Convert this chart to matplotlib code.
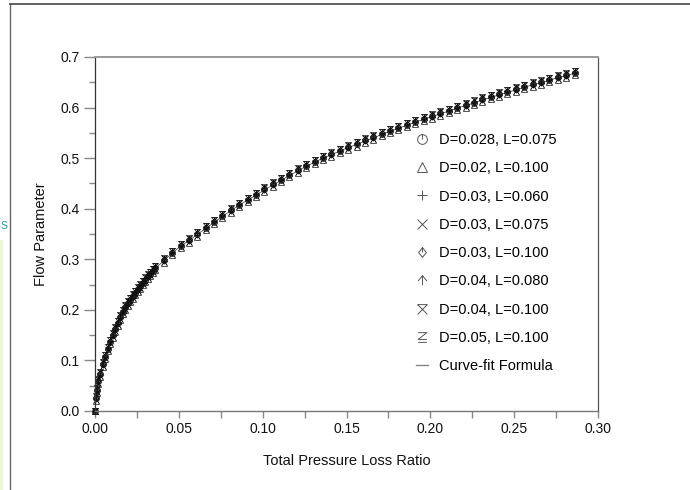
import matplotlib
matplotlib.use("Agg")
import matplotlib.pyplot as plt
from matplotlib.path import Path
from matplotlib.lines import Line2D
from matplotlib.patches import Rectangle
from matplotlib.ticker import MultipleLocator, FormatStrFormatter

plt.rcParams["font.family"] = ["Liberation Sans", "DejaVu Sans"]

# ---- data -------------------------------------------------------------
loss_ratio = [
    0.0, 0.0004, 0.001, 0.002, 0.003, 0.0045, 0.006, 0.0075, 0.009, 0.0105,
    0.012, 0.0135, 0.015, 0.0165, 0.018, 0.0195, 0.021, 0.0225, 0.024, 0.0255,
    0.027, 0.0285, 0.030, 0.0315, 0.033, 0.0345, 0.036,
    0.041, 0.046, 0.051, 0.056, 0.061, 0.066, 0.071, 0.076, 0.081, 0.086,
    0.091, 0.096, 0.101, 0.106, 0.111, 0.116, 0.121, 0.126, 0.131, 0.136,
    0.141, 0.146, 0.151, 0.156, 0.161, 0.166, 0.171, 0.176, 0.181, 0.186,
    0.191, 0.196, 0.201, 0.206, 0.211, 0.216, 0.221, 0.226, 0.231, 0.236,
    0.241, 0.246, 0.251, 0.256, 0.261, 0.266, 0.271, 0.276, 0.281, 0.286,
]

flow_fit = [
    0.000, 0.024, 0.040, 0.058, 0.072, 0.091, 0.106, 0.122, 0.136, 0.149,
    0.161, 0.173, 0.184, 0.195, 0.204, 0.212, 0.219, 0.226, 0.233, 0.240,
    0.246, 0.253, 0.259, 0.265, 0.270, 0.276, 0.282,
    0.297, 0.312, 0.326, 0.337, 0.349, 0.361, 0.373, 0.385, 0.396, 0.407,
    0.417, 0.427, 0.437, 0.447, 0.456, 0.466, 0.475, 0.484, 0.492, 0.500,
    0.507, 0.514, 0.521, 0.527, 0.534, 0.540, 0.547, 0.553, 0.559, 0.565,
    0.571, 0.577, 0.582, 0.588, 0.593, 0.599, 0.604, 0.609, 0.615, 0.620,
    0.625, 0.630, 0.635, 0.640, 0.645, 0.649, 0.654, 0.659, 0.663, 0.668,
]

flow_d028_l075 = [
    0.000, 0.025, 0.041, 0.059, 0.073, 0.092, 0.107, 0.123, 0.137, 0.150,
    0.162, 0.174, 0.185, 0.196, 0.205, 0.213, 0.220, 0.227, 0.234, 0.241,
    0.247, 0.254, 0.260, 0.266, 0.271, 0.277, 0.283,
    0.298, 0.313, 0.327, 0.338, 0.350, 0.362, 0.374, 0.386, 0.397, 0.408,
    0.418, 0.428, 0.438, 0.448, 0.457, 0.467, 0.476, 0.485, 0.493, 0.501,
    0.508, 0.515, 0.522, 0.528, 0.535, 0.541, 0.548, 0.554, 0.560, 0.566,
    0.572, 0.578, 0.583, 0.589, 0.594, 0.600, 0.605, 0.610, 0.616, 0.621,
    0.626, 0.631, 0.636, 0.641, 0.646, 0.650, 0.655, 0.660, 0.664, 0.669,
]

flow_d02_l100 = [
    0.000, 0.020, 0.036, 0.054, 0.068, 0.087, 0.102, 0.118, 0.132, 0.145,
    0.157, 0.169, 0.180, 0.191, 0.200, 0.208, 0.215, 0.222, 0.229, 0.236,
    0.242, 0.249, 0.255, 0.261, 0.266, 0.272, 0.278,
    0.293, 0.308, 0.322, 0.333, 0.345, 0.357, 0.369, 0.381, 0.392, 0.403,
    0.413, 0.423, 0.433, 0.443, 0.452, 0.462, 0.471, 0.480, 0.488, 0.496,
    0.503, 0.510, 0.517, 0.523, 0.530, 0.536, 0.543, 0.549, 0.555, 0.561,
    0.567, 0.573, 0.578, 0.584, 0.589, 0.595, 0.600, 0.605, 0.611, 0.616,
    0.621, 0.626, 0.631, 0.636, 0.641, 0.645, 0.650, 0.655, 0.659, 0.664,
]

flow_d03_l060 = [
    0.000, 0.024, 0.040, 0.058, 0.072, 0.091, 0.106, 0.122, 0.136, 0.149,
    0.161, 0.173, 0.184, 0.195, 0.204, 0.212, 0.219, 0.226, 0.233, 0.240,
    0.246, 0.253, 0.259, 0.265, 0.270, 0.276, 0.282,
    0.297, 0.312, 0.326, 0.337, 0.349, 0.361, 0.373, 0.385, 0.396, 0.407,
    0.417, 0.427, 0.437, 0.447, 0.456, 0.466, 0.475, 0.484, 0.492, 0.500,
    0.507, 0.514, 0.521, 0.527, 0.534, 0.540, 0.547, 0.553, 0.559, 0.565,
    0.571, 0.577, 0.582, 0.588, 0.593, 0.599, 0.604, 0.609, 0.615, 0.620,
    0.625, 0.630, 0.635, 0.640, 0.645, 0.649, 0.654, 0.659, 0.663, 0.668,
]

flow_d03_l075 = [
    0.000, 0.022, 0.038, 0.056, 0.070, 0.089, 0.104, 0.120, 0.134, 0.147,
    0.159, 0.171, 0.182, 0.193, 0.202, 0.210, 0.217, 0.224, 0.231, 0.238,
    0.244, 0.251, 0.257, 0.263, 0.268, 0.274, 0.280,
    0.295, 0.310, 0.324, 0.335, 0.347, 0.359, 0.371, 0.383, 0.394, 0.405,
    0.415, 0.425, 0.435, 0.445, 0.454, 0.464, 0.473, 0.482, 0.490, 0.498,
    0.505, 0.512, 0.519, 0.525, 0.532, 0.538, 0.545, 0.551, 0.557, 0.563,
    0.569, 0.575, 0.580, 0.586, 0.591, 0.597, 0.602, 0.607, 0.613, 0.618,
    0.623, 0.628, 0.633, 0.638, 0.643, 0.647, 0.652, 0.657, 0.661, 0.666,
]

flow_d03_l100 = [
    0.000, 0.026, 0.042, 0.060, 0.074, 0.093, 0.108, 0.124, 0.138, 0.151,
    0.163, 0.175, 0.186, 0.197, 0.206, 0.214, 0.221, 0.228, 0.235, 0.242,
    0.248, 0.255, 0.261, 0.267, 0.272, 0.278, 0.284,
    0.299, 0.314, 0.328, 0.339, 0.351, 0.363, 0.375, 0.387, 0.398, 0.409,
    0.419, 0.429, 0.439, 0.449, 0.458, 0.468, 0.477, 0.486, 0.494, 0.502,
    0.509, 0.516, 0.523, 0.529, 0.536, 0.542, 0.549, 0.555, 0.561, 0.567,
    0.573, 0.579, 0.584, 0.590, 0.595, 0.601, 0.606, 0.611, 0.617, 0.622,
    0.627, 0.632, 0.637, 0.642, 0.647, 0.651, 0.656, 0.661, 0.665, 0.670,
]

flow_d04_l080 = [
    0.000, 0.027, 0.043, 0.061, 0.075, 0.094, 0.109, 0.125, 0.139, 0.152,
    0.164, 0.176, 0.187, 0.198, 0.207, 0.215, 0.222, 0.229, 0.236, 0.243,
    0.249, 0.256, 0.262, 0.268, 0.273, 0.279, 0.285,
    0.300, 0.315, 0.329, 0.340, 0.352, 0.364, 0.376, 0.388, 0.399, 0.410,
    0.420, 0.430, 0.440, 0.450, 0.459, 0.469, 0.478, 0.487, 0.495, 0.503,
    0.510, 0.517, 0.524, 0.530, 0.537, 0.543, 0.550, 0.556, 0.562, 0.568,
    0.574, 0.580, 0.585, 0.591, 0.596, 0.602, 0.607, 0.612, 0.618, 0.623,
    0.628, 0.633, 0.638, 0.643, 0.648, 0.652, 0.657, 0.662, 0.666, 0.671,
]

flow_d04_l100 = [
    0.000, 0.029, 0.045, 0.063, 0.077, 0.096, 0.111, 0.127, 0.141, 0.154,
    0.166, 0.178, 0.189, 0.200, 0.209, 0.217, 0.224, 0.231, 0.238, 0.245,
    0.251, 0.258, 0.264, 0.270, 0.275, 0.281, 0.287,
    0.302, 0.317, 0.331, 0.342, 0.354, 0.366, 0.378, 0.390, 0.401, 0.412,
    0.422, 0.432, 0.442, 0.452, 0.461, 0.471, 0.480, 0.489, 0.497, 0.505,
    0.512, 0.519, 0.526, 0.532, 0.539, 0.545, 0.552, 0.558, 0.564, 0.570,
    0.576, 0.582, 0.587, 0.593, 0.598, 0.604, 0.609, 0.614, 0.620, 0.625,
    0.630, 0.635, 0.640, 0.645, 0.650, 0.654, 0.659, 0.664, 0.668, 0.673,
]

flow_d05_l100 = [
    0.000, 0.028, 0.044, 0.062, 0.076, 0.095, 0.110, 0.126, 0.140, 0.153,
    0.165, 0.177, 0.188, 0.199, 0.208, 0.216, 0.223, 0.230, 0.237, 0.244,
    0.250, 0.257, 0.263, 0.269, 0.274, 0.280, 0.286,
    0.301, 0.316, 0.330, 0.341, 0.353, 0.365, 0.377, 0.389, 0.400, 0.411,
    0.421, 0.431, 0.441, 0.451, 0.460, 0.470, 0.479, 0.488, 0.496, 0.504,
    0.511, 0.518, 0.525, 0.531, 0.538, 0.544, 0.551, 0.557, 0.563, 0.569,
    0.575, 0.581, 0.586, 0.592, 0.597, 0.603, 0.608, 0.613, 0.619, 0.624,
    0.629, 0.634, 0.639, 0.644, 0.649, 0.653, 0.658, 0.663, 0.667, 0.672,
]

series_labels = [
    "D=0.028, L=0.075",
    "D=0.02, L=0.100",
    "D=0.03, L=0.060",
    "D=0.03, L=0.075",
    "D=0.03, L=0.100",
    "D=0.04, L=0.080",
    "D=0.04, L=0.100",
    "D=0.05, L=0.100",
]
fit_label = "Curve-fit Formula"

# ---- custom marker glyphs --------------------------------------------
def polylines(*lines):
    verts, codes = [], []
    for line in lines:
        for i, p in enumerate(line):
            verts.append(p)
            codes.append(Path.MOVETO if i == 0 else Path.LINETO)
    return Path(verts, codes)

circle_tick = Path.make_compound_path(Path.unit_circle(),
                                      polylines([(0, 0), (0, 1)]))
diamond_tick = polylines([(0, 1), (0.8, 0), (0, -1), (-0.8, 0), (0, 1)],
                         [(0, 0), (0, 1)])
arrow_plus = polylines([(-0.9, -0.1), (0, 1), (0.9, -0.1)], [(0, 1), (0, -1)])
bar_cross = polylines([(-1, 1), (1, 1)], [(-1, 1), (1, -1)], [(1, 1), (-1, -1)])
bar_zed = polylines([(-0.9, 1), (0.9, 1), (-0.9, -0.4), (0.9, -0.4)],
                    [(-0.9, -1), (0.9, -1)])

series_values = [flow_d028_l075, flow_d02_l100, flow_d03_l060, flow_d03_l075,
                 flow_d03_l100, flow_d04_l080, flow_d04_l100, flow_d05_l100]
series_markers = [circle_tick, "^", "+", "x", diamond_tick, arrow_plus,
                  bar_cross, bar_zed]

# ---- figure -----------------------------------------------------------
fig = plt.figure(figsize=(6.9, 4.9), dpi=100)
ax = fig.add_axes([95 / 690, 1 - 411 / 490, 503 / 690, 354 / 490])

# surrounding window frame and edge remnants
fig.add_artist(Line2D([10 / 690, 10 / 690], [0, 1 - 4 / 490],
                      transform=fig.transFigure, color="#666666", lw=1.0))
fig.add_artist(Line2D([10 / 690, 1], [1 - 4 / 490, 1 - 4 / 490],
                      transform=fig.transFigure, color="#555555", lw=1.3))
fig.add_artist(Rectangle((0, 0), 3 / 690, 250 / 490, transform=fig.transFigure,
                         facecolor="#eef6d8", edgecolor="none"))
fig.text(0.5 / 690, 1 - 226 / 490, "S", color="#1f9e9e", fontsize=7.5,
         ha="left", va="center")

ax.plot(loss_ratio, flow_fit, color="#333333", lw=0.5, zorder=1)
for vals, mk in zip(series_values, series_markers):
    ax.plot(loss_ratio, vals, linestyle="none", marker=mk, markersize=4.3,
            markerfacecolor="none", markeredgecolor="#111111",
            markeredgewidth=0.5, clip_on=False, zorder=2)

ax.set_xlim(0, 0.30)
ax.set_ylim(0, 0.70)
ax.xaxis.set_major_locator(MultipleLocator(0.05))
ax.xaxis.set_minor_locator(MultipleLocator(0.025))
ax.yaxis.set_major_locator(MultipleLocator(0.1))
ax.yaxis.set_minor_locator(MultipleLocator(0.05))
ax.xaxis.set_major_formatter(FormatStrFormatter("%.2f"))
ax.yaxis.set_major_formatter(FormatStrFormatter("%.1f"))

ax.tick_params(axis="both", which="both", direction="out", color="#888888",
               labelsize=10, labelcolor="#111111", width=1.0)
ax.tick_params(axis="y", which="major", length=8, pad=3)
ax.tick_params(axis="y", which="minor", length=4)
ax.tick_params(axis="x", which="major", length=5, pad=3)
ax.tick_params(axis="x", which="minor", length=5)

ax.spines["top"].set_color("#999999")
ax.spines["top"].set_linewidth(1.4)
ax.spines["right"].set_color("#555555")
ax.spines["right"].set_linewidth(0.9)
ax.spines["left"].set_color("#333333")
ax.spines["left"].set_linewidth(0.9)
ax.spines["bottom"].set_color("#777777")
ax.spines["bottom"].set_linewidth(1.0)

ax.set_xlabel("Total Pressure Loss Ratio", fontsize=10.5, labelpad=13,
              color="#111111")
ax.set_ylabel("Flow Parameter", fontsize=10.5, labelpad=9, color="#111111")

# legend
handles = [Line2D([], [], linestyle="none", marker=mk, markersize=7,
                  markerfacecolor="none", markeredgecolor="#555555",
                  markeredgewidth=0.7) for mk in series_markers]
handles.append(Line2D([], [], color="#888888", lw=1.0))
ax.legend(handles, series_labels + [fit_label], loc="upper left",
          bbox_to_anchor=(416 / 690, 1 - 133 / 490),
          bbox_transform=fig.transFigure, frameon=False, fontsize=10.5,
          handlelength=0.85, handletextpad=0.7, labelspacing=0.98,
          borderpad=0, borderaxespad=0)

fig.savefig("out.png", dpi=100)
